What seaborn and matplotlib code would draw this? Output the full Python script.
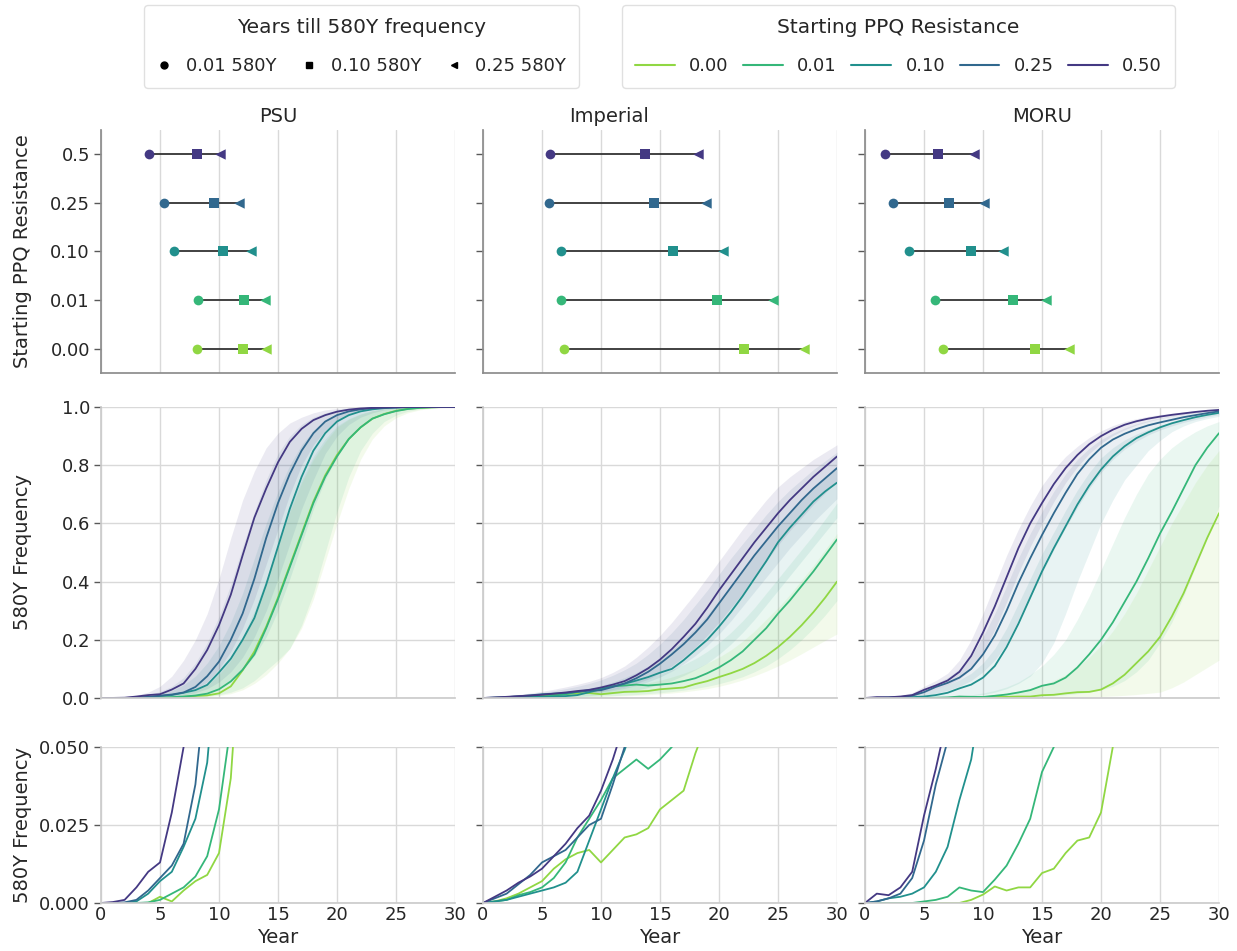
import numpy as np
import pandas as pd
import matplotlib
matplotlib.use("Agg")
import matplotlib.pyplot as plt
from matplotlib.lines import Line2D
import seaborn as sns

# ---- data -------------------------------------------------------------
years = list(range(0, 31))
models = ["PSU", "Imperial", "MORU"]
res_values = ["0.00", "0.01", "0.10", "0.25", "0.50"]
res_ticklabels = ["0.00", "0.01", "0.10", "0.25", "0.5"]
thr_labels = ["0.01 580Y", "0.10 580Y", "0.25 580Y"]

# years until 580Y reaches 0.01 / 0.10 / 0.25 (order: 0.00, 0.01, 0.10, 0.25, 0.50)
psu_t01 = [8.1, 8.2, 6.2, 5.3, 4.1]
psu_t10 = [12.0, 12.1, 10.3, 9.6, 8.1]
psu_t25 = [14.0, 13.9, 12.7, 11.7, 10.1]
imp_t01 = [6.9, 6.6, 6.6, 5.6, 5.7]
imp_t10 = [22.1, 19.8, 16.1, 14.5, 13.7]
imp_t25 = [27.2, 24.6, 20.3, 18.9, 18.2]
moru_t01 = [6.6, 5.9, 3.7, 2.35, 1.7]
moru_t10 = [14.4, 12.5, 9.0, 7.1, 6.2]
moru_t25 = [17.3, 15.3, 11.7, 10.1, 9.2]

# 580Y frequency by year (median) and band edges
psu_000 = [0, 0, 0, 0, 0, 0.002, 0.0005, 0.004, 0.007, 0.009, 0.016, 0.04, 0.095, 0.16, 0.245, 0.345,
           0.455, 0.565, 0.675, 0.765, 0.835, 0.89, 0.93, 0.96, 0.976, 0.987, 0.994, 0.997, 0.999, 1, 1]
psu_001 = [0, 0, 0, 0, 0.0002, 0.001, 0.003, 0.005, 0.0085, 0.015, 0.03, 0.057, 0.097, 0.15, 0.24, 0.34,
           0.45, 0.56, 0.67, 0.76, 0.83, 0.89, 0.93, 0.96, 0.975, 0.986, 0.993, 0.997, 0.999, 1, 1]
psu_010 = [0, 0, 0, 0.0005, 0.003, 0.007, 0.01, 0.018, 0.027, 0.045, 0.088, 0.135, 0.2, 0.275, 0.39, 0.52,
           0.65, 0.76, 0.85, 0.91, 0.95, 0.972, 0.985, 0.992, 0.996, 0.998, 0.999, 1, 1, 1, 1]
psu_025 = [0, 0, 0.0002, 0.001, 0.004, 0.008, 0.012, 0.019, 0.038, 0.075, 0.125, 0.2, 0.29, 0.41, 0.55, 0.67,
           0.77, 0.85, 0.91, 0.95, 0.972, 0.985, 0.992, 0.996, 0.998, 0.999, 1, 1, 1, 1, 1]
psu_050 = [0, 0.0003, 0.001, 0.005, 0.010, 0.013, 0.029, 0.05, 0.10, 0.165, 0.25, 0.355, 0.49, 0.62, 0.72, 0.81,
           0.88, 0.925, 0.955, 0.972, 0.984, 0.991, 0.995, 0.997, 0.998, 0.999, 1, 1, 1, 1, 1]
psu_000_lo = [0, 0, 0, 0, 0, 0, 0.0003, 0.001, 0.002, 0.004, 0.008, 0.015, 0.028, 0.05, 0.08, 0.12,
              0.17, 0.24, 0.34, 0.47, 0.6, 0.72, 0.82, 0.89, 0.935, 0.963, 0.98, 0.99, 0.995, 0.998, 1]
psu_000_hi = [0, 0, 0, 0, 0.001, 0.004, 0.008, 0.015, 0.026, 0.045, 0.08, 0.13, 0.2, 0.29, 0.4, 0.52,
              0.64, 0.74, 0.82, 0.88, 0.93, 0.958, 0.975, 0.987, 0.993, 0.997, 0.999, 1, 1, 1, 1]
psu_001_lo = [0, 0, 0, 0, 0, 0.0002, 0.0006, 0.0015, 0.003, 0.006, 0.011, 0.02, 0.035, 0.06, 0.095, 0.13,
              0.17, 0.25, 0.36, 0.5, 0.64, 0.76, 0.85, 0.91, 0.95, 0.972, 0.985, 0.993, 0.997, 0.999, 1]
psu_001_hi = [0, 0, 0, 0.0005, 0.002, 0.005, 0.01, 0.018, 0.03, 0.05, 0.085, 0.14, 0.21, 0.3, 0.41, 0.53,
              0.65, 0.75, 0.83, 0.89, 0.935, 0.96, 0.977, 0.988, 0.994, 0.997, 0.999, 1, 1, 1, 1]
psu_010_lo = [0, 0, 0, 0, 0.0005, 0.002, 0.004, 0.007, 0.012, 0.02, 0.035, 0.06, 0.095, 0.145, 0.21, 0.3,
              0.41, 0.53, 0.65, 0.75, 0.83, 0.89, 0.93, 0.96, 0.978, 0.988, 0.994, 0.997, 0.999, 1, 1]
psu_010_hi = [0, 0.0003, 0.001, 0.004, 0.008, 0.015, 0.025, 0.045, 0.075, 0.12, 0.18, 0.26, 0.36, 0.48, 0.6, 0.71,
              0.8, 0.87, 0.92, 0.955, 0.975, 0.987, 0.994, 0.997, 0.999, 1, 1, 1, 1, 1, 1]
psu_025_lo = [0, 0, 0, 0.0003, 0.001, 0.003, 0.006, 0.01, 0.018, 0.032, 0.055, 0.09, 0.14, 0.21, 0.3, 0.41,
              0.53, 0.65, 0.75, 0.84, 0.9, 0.94, 0.965, 0.98, 0.99, 0.995, 0.998, 0.999, 1, 1, 1]
psu_025_hi = [0, 0.0005, 0.002, 0.006, 0.012, 0.022, 0.04, 0.07, 0.12, 0.19, 0.28, 0.39, 0.52, 0.64, 0.75, 0.84,
              0.9, 0.94, 0.965, 0.98, 0.99, 0.995, 0.998, 0.999, 1, 1, 1, 1, 1, 1, 1]
psu_050_lo = [0, 0, 0, 0.001, 0.003, 0.006, 0.01, 0.018, 0.03, 0.055, 0.1, 0.16, 0.24, 0.34, 0.46, 0.58,
              0.7, 0.8, 0.87, 0.92, 0.955, 0.975, 0.987, 0.993, 0.997, 0.999, 1, 1, 1, 1, 1]
psu_050_hi = [0, 0.001, 0.004, 0.01, 0.02, 0.04, 0.075, 0.13, 0.2, 0.29, 0.41, 0.55, 0.68, 0.78, 0.86, 0.91,
              0.945, 0.965, 0.98, 0.99, 0.995, 0.997, 0.998, 0.999, 1, 1, 1, 1, 1, 1, 1]

imp_000 = [0, 0.0005, 0.0015, 0.003, 0.005, 0.007, 0.011, 0.014, 0.016, 0.017, 0.013, 0.017, 0.021, 0.022, 0.024, 0.03,
           0.033, 0.036, 0.048, 0.058, 0.072, 0.085, 0.1, 0.12, 0.145, 0.175, 0.21, 0.25, 0.295, 0.345, 0.40]
imp_001 = [0, 0.0005, 0.001, 0.0025, 0.0035, 0.005, 0.008, 0.013, 0.021, 0.027, 0.033, 0.04, 0.043, 0.046, 0.043, 0.046,
           0.05, 0.058, 0.068, 0.085, 0.105, 0.13, 0.16, 0.2, 0.24, 0.29, 0.335, 0.385, 0.435, 0.49, 0.545]
imp_010 = [0, 0.0005, 0.001, 0.002, 0.003, 0.004, 0.005, 0.0065, 0.01, 0.02, 0.03, 0.04, 0.049, 0.06, 0.072, 0.087,
           0.1, 0.13, 0.165, 0.2, 0.245, 0.295, 0.35, 0.41, 0.47, 0.535, 0.585, 0.63, 0.675, 0.71, 0.74]
imp_025 = [0, 0.0015, 0.003, 0.006, 0.009, 0.013, 0.015, 0.017, 0.021, 0.025, 0.027, 0.038, 0.05, 0.068, 0.09, 0.118,
           0.15, 0.185, 0.225, 0.27, 0.325, 0.38, 0.435, 0.49, 0.54, 0.59, 0.635, 0.68, 0.72, 0.755, 0.79]
imp_050 = [0, 0.002, 0.004, 0.0065, 0.0085, 0.011, 0.015, 0.019, 0.024, 0.028, 0.036, 0.046, 0.058, 0.078, 0.102, 0.132,
           0.168, 0.21, 0.255, 0.31, 0.37, 0.425, 0.48, 0.535, 0.585, 0.635, 0.68, 0.72, 0.76, 0.795, 0.83]
imp_000_lo = [0, 0, 0, 0, 0.0005, 0.001, 0.0015, 0.002, 0.003, 0.004, 0.005, 0.006, 0.0075, 0.009, 0.011, 0.014,
              0.017, 0.021, 0.026, 0.032, 0.04, 0.05, 0.062, 0.076, 0.092, 0.11, 0.13, 0.152, 0.175, 0.198, 0.22]
imp_000_hi = [0, 0.001, 0.002, 0.0035, 0.005, 0.007, 0.01, 0.013, 0.017, 0.021, 0.026, 0.031, 0.037, 0.044, 0.052, 0.061,
              0.072, 0.085, 0.1, 0.12, 0.14, 0.165, 0.195, 0.23, 0.27, 0.31, 0.355, 0.405, 0.455, 0.51, 0.565]
imp_001_lo = [0, 0, 0, 0.0005, 0.001, 0.0015, 0.002, 0.003, 0.004, 0.005, 0.0065, 0.008, 0.01, 0.012, 0.015, 0.018,
              0.022, 0.027, 0.033, 0.04, 0.049, 0.06, 0.073, 0.09, 0.11, 0.135, 0.165, 0.2, 0.24, 0.285, 0.335]
imp_001_hi = [0, 0.001, 0.002, 0.004, 0.006, 0.009, 0.012, 0.016, 0.021, 0.027, 0.034, 0.042, 0.05, 0.06, 0.07, 0.082,
              0.097, 0.115, 0.135, 0.16, 0.19, 0.225, 0.265, 0.31, 0.36, 0.41, 0.46, 0.51, 0.56, 0.615, 0.67]
imp_010_lo = [0, 0, 0.0005, 0.001, 0.0015, 0.002, 0.003, 0.004, 0.006, 0.008, 0.011, 0.015, 0.02, 0.027, 0.036, 0.047,
              0.06, 0.077, 0.097, 0.12, 0.15, 0.185, 0.225, 0.27, 0.32, 0.37, 0.42, 0.47, 0.52, 0.57, 0.62]
imp_010_hi = [0, 0.0015, 0.003, 0.005, 0.008, 0.011, 0.015, 0.02, 0.026, 0.034, 0.043, 0.055, 0.07, 0.088, 0.11, 0.135,
              0.165, 0.2, 0.24, 0.285, 0.335, 0.385, 0.435, 0.49, 0.54, 0.59, 0.635, 0.68, 0.72, 0.755, 0.79]
imp_025_lo = [0, 0.0008, 0.0015, 0.0025, 0.004, 0.006, 0.008, 0.01, 0.013, 0.016, 0.02, 0.026, 0.033, 0.043, 0.056, 0.072,
              0.092, 0.117, 0.146, 0.18, 0.22, 0.265, 0.315, 0.365, 0.415, 0.465, 0.515, 0.56, 0.605, 0.645, 0.685]
imp_025_hi = [0, 0.0025, 0.005, 0.009, 0.014, 0.019, 0.025, 0.032, 0.04, 0.05, 0.062, 0.078, 0.097, 0.12, 0.15, 0.185,
              0.225, 0.27, 0.32, 0.37, 0.425, 0.48, 0.53, 0.58, 0.63, 0.675, 0.715, 0.75, 0.785, 0.815, 0.845]
imp_050_lo = [0, 0.001, 0.002, 0.003, 0.005, 0.007, 0.009, 0.011, 0.014, 0.018, 0.023, 0.03, 0.038, 0.05, 0.065, 0.085,
              0.11, 0.14, 0.175, 0.215, 0.26, 0.31, 0.36, 0.415, 0.47, 0.525, 0.575, 0.62, 0.665, 0.705, 0.745]
imp_050_hi = [0, 0.003, 0.007, 0.012, 0.017, 0.023, 0.03, 0.038, 0.047, 0.057, 0.07, 0.088, 0.11, 0.14, 0.175, 0.215,
              0.26, 0.31, 0.36, 0.415, 0.47, 0.525, 0.58, 0.63, 0.68, 0.725, 0.76, 0.79, 0.82, 0.845, 0.87]

moru_000 = [0, 0, 0, 0, 0, 0, 0, 0, 0, 0.001, 0.0027, 0.0053, 0.004, 0.005, 0.005, 0.0096,
            0.011, 0.016, 0.02, 0.021, 0.029, 0.05, 0.08, 0.12, 0.16, 0.21, 0.28, 0.36, 0.455, 0.55, 0.635]
moru_001 = [0, 0, 0, 0, 0, 0.0005, 0.001, 0.002, 0.005, 0.004, 0.0035, 0.0075, 0.012, 0.019, 0.027, 0.042,
            0.05, 0.07, 0.105, 0.15, 0.2, 0.26, 0.33, 0.4, 0.48, 0.565, 0.64, 0.72, 0.8, 0.86, 0.91]
moru_010 = [0, 0.0005, 0.0015, 0.002, 0.003, 0.005, 0.01, 0.018, 0.033, 0.046, 0.07, 0.11, 0.175, 0.255, 0.345, 0.435,
            0.515, 0.59, 0.665, 0.73, 0.785, 0.83, 0.865, 0.893, 0.913, 0.93, 0.944, 0.955, 0.965, 0.973, 0.98]
moru_025 = [0, 0.0005, 0.0015, 0.003, 0.008, 0.02, 0.038, 0.052, 0.07, 0.1, 0.15, 0.215, 0.3, 0.395, 0.48, 0.56,
            0.635, 0.705, 0.77, 0.82, 0.86, 0.888, 0.908, 0.924, 0.937, 0.947, 0.956, 0.965, 0.972, 0.979, 0.985]
moru_050 = [0, 0.003, 0.0025, 0.005, 0.01, 0.028, 0.043, 0.06, 0.09, 0.145, 0.225, 0.315, 0.415, 0.515, 0.6, 0.67,
            0.735, 0.79, 0.835, 0.872, 0.9, 0.922, 0.939, 0.951, 0.96, 0.967, 0.973, 0.978, 0.983, 0.987, 0.99]
moru_000_lo = [0, 0, 0, 0, 0, 0, 0, 0, 0, 0, 0, 0, 0, 0.0003, 0.0005, 0.001,
               0.0015, 0.002, 0.003, 0.004, 0.005, 0.007, 0.009, 0.012, 0.016, 0.02, 0.035, 0.055, 0.08, 0.105, 0.13]
moru_000_hi = [0, 0, 0, 0, 0, 0.0005, 0.001, 0.002, 0.003, 0.005, 0.008, 0.012, 0.017, 0.024, 0.033, 0.045,
               0.06, 0.08, 0.105, 0.14, 0.18, 0.23, 0.29, 0.36, 0.44, 0.52, 0.6, 0.67, 0.74, 0.8, 0.85]
moru_001_lo = [0, 0, 0, 0, 0, 0, 0, 0, 0, 0.0005, 0.001, 0.0015, 0.002, 0.003, 0.004, 0.006,
               0.008, 0.011, 0.015, 0.02, 0.028, 0.04, 0.06, 0.09, 0.13, 0.19, 0.26, 0.35, 0.45, 0.55, 0.66]
moru_001_hi = [0, 0, 0, 0, 0.0005, 0.001, 0.002, 0.004, 0.007, 0.011, 0.017, 0.026, 0.038, 0.055, 0.08, 0.11,
               0.15, 0.2, 0.27, 0.35, 0.44, 0.53, 0.62, 0.7, 0.77, 0.82, 0.86, 0.89, 0.915, 0.935, 0.95]
moru_010_lo = [0, 0, 0, 0, 0, 0.0005, 0.001, 0.002, 0.004, 0.007, 0.012, 0.02, 0.032, 0.05, 0.075, 0.12,
               0.19, 0.29, 0.4, 0.5, 0.6, 0.68, 0.75, 0.8, 0.85, 0.885, 0.915, 0.935, 0.95, 0.96, 0.968]
moru_010_hi = [0, 0.001, 0.002, 0.004, 0.008, 0.016, 0.03, 0.045, 0.062, 0.085, 0.12, 0.17, 0.24, 0.325, 0.41, 0.495,
               0.57, 0.645, 0.715, 0.775, 0.825, 0.86, 0.887, 0.907, 0.923, 0.937, 0.948, 0.958, 0.967, 0.975, 0.982]
moru_025_lo = [0, 0, 0.0005, 0.001, 0.003, 0.008, 0.016, 0.026, 0.04, 0.06, 0.09, 0.13, 0.185, 0.26, 0.345, 0.43,
               0.51, 0.585, 0.655, 0.72, 0.775, 0.82, 0.855, 0.882, 0.904, 0.921, 0.935, 0.947, 0.957, 0.966, 0.974]
moru_025_hi = [0, 0.002, 0.004, 0.007, 0.014, 0.03, 0.05, 0.07, 0.1, 0.145, 0.21, 0.29, 0.385, 0.48, 0.565, 0.64,
               0.71, 0.77, 0.82, 0.858, 0.888, 0.91, 0.928, 0.942, 0.953, 0.962, 0.97, 0.976, 0.982, 0.986, 0.99]
moru_050_lo = [0, 0.001, 0.0015, 0.003, 0.006, 0.017, 0.03, 0.045, 0.065, 0.1, 0.16, 0.235, 0.33, 0.43, 0.52, 0.6,
               0.675, 0.74, 0.795, 0.84, 0.875, 0.902, 0.922, 0.938, 0.95, 0.96, 0.968, 0.975, 0.98, 0.985, 0.988]
moru_050_hi = [0, 0.005, 0.006, 0.01, 0.018, 0.04, 0.06, 0.085, 0.13, 0.2, 0.29, 0.39, 0.49, 0.58, 0.66, 0.73,
               0.785, 0.83, 0.865, 0.895, 0.918, 0.936, 0.95, 0.96, 0.968, 0.974, 0.979, 0.983, 0.987, 0.99, 0.993]

# ---- assemble ---------------------------------------------------------
times = {
    "PSU": [psu_t01, psu_t10, psu_t25],
    "Imperial": [imp_t01, imp_t10, imp_t25],
    "MORU": [moru_t01, moru_t10, moru_t25],
}
medians = {
    "PSU": [psu_000, psu_001, psu_010, psu_025, psu_050],
    "Imperial": [imp_000, imp_001, imp_010, imp_025, imp_050],
    "MORU": [moru_000, moru_001, moru_010, moru_025, moru_050],
}
bands = {
    "PSU": [(psu_000_lo, psu_000_hi), (psu_001_lo, psu_001_hi), (psu_010_lo, psu_010_hi),
            (psu_025_lo, psu_025_hi), (psu_050_lo, psu_050_hi)],
    "Imperial": [(imp_000_lo, imp_000_hi), (imp_001_lo, imp_001_hi), (imp_010_lo, imp_010_hi),
                 (imp_025_lo, imp_025_hi), (imp_050_lo, imp_050_hi)],
    "MORU": [(moru_000_lo, moru_000_hi), (moru_001_lo, moru_001_hi), (moru_010_lo, moru_010_hi),
             (moru_025_lo, moru_025_hi), (moru_050_lo, moru_050_hi)],
}

sns.set_theme(style="whitegrid")
plt.rcParams["font.family"] = ["DejaVu Sans"]
plt.rcParams["axes.edgecolor"] = "0.8"

colors = sns.color_palette("viridis_r", len(res_values))
pal = dict(zip(res_values, colors))
top_pal = dict(zip(res_ticklabels, colors))
top_labels = list(reversed(res_ticklabels))     # 0.5 at the top

W, H = 1237, 951
fig = plt.figure(figsize=(W / 100, H / 100), dpi=100)


def rect(x0, y0, x1, y1):
    return [x0 / W, 1 - y1 / H, (x1 - x0) / W, (y1 - y0) / H]


col_x = [(101, 455), (483, 837), (865, 1219)]
row_y = [(130, 373), (407, 698), (747, 903)]
title_x = [0.5, 0.356, 0.5]
tick_kw = dict(axis="y", left=True, length=5, width=1, color="0.35", labelsize=13, pad=3)

for j, model in enumerate(models):
    # --- top row: years until threshold
    ax = fig.add_axes(rect(col_x[j][0], row_y[0][0], col_x[j][1], row_y[0][1]))
    t01, t10, t25 = times[model]
    top_df = pd.DataFrame({
        "res": res_ticklabels * 3,
        "year": t01 + t10 + t25,
        "thr": sum([[lab] * len(res_values) for lab in thr_labels], []),
    })
    pos = np.arange(len(top_labels))
    lo = [t01[res_ticklabels.index(r)] for r in top_labels]
    hi = [t25[res_ticklabels.index(r)] for r in top_labels]
    ax.hlines(pos, lo, hi, color="0.2", lw=1.3, zorder=1)
    for lab, mk in zip(thr_labels, ["o", "s", "<"]):
        sns.stripplot(data=top_df[top_df["thr"] == lab], x="year", y="res", hue="res",
                      order=top_labels, hue_order=top_labels, palette=top_pal,
                      jitter=False, marker=mk, size=7 if mk != "<" else 7.5,
                      linewidth=0, legend=False, ax=ax, zorder=3)
    ax.set_xlim(0, 30)
    ax.set_xticks(range(0, 31, 5))
    ax.tick_params(axis="x", labelbottom=False, length=0)
    ax.tick_params(**tick_kw)
    ax.grid(axis="x", color="0.85")
    ax.grid(axis="y", visible=False)
    ax.set_xlabel("")
    for s in ["left", "bottom"]:
        ax.spines[s].set_color("0.55")
    sns.despine(ax=ax)
    ax.set_title(model, fontsize=14, x=title_x[j], pad=6)
    if j == 0:
        ax.set_ylabel("Starting PPQ Resistance", fontsize=14)
        ax.yaxis.set_label_coords(-0.195, 0.5)
    else:
        ax.set_ylabel("")
        ax.tick_params(axis="y", labelleft=False)

    # --- curves, full range and zoomed
    long_df = pd.DataFrame({
        "year": years * len(res_values),
        "freq": sum(medians[model], []),
        "res": sum([[r] * len(years) for r in res_values], []),
    })
    for i, (y0, y1) in enumerate(row_y[1:]):
        ax = fig.add_axes(rect(col_x[j][0], y0, col_x[j][1], y1))
        if i == 0:
            for r, (blo, bhi) in zip(res_values, bands[model]):
                ax.fill_between(years, blo, bhi, color=pal[r], alpha=0.1, lw=0)
        sns.lineplot(data=long_df, x="year", y="freq", hue="res", hue_order=res_values,
                     palette=pal, linewidth=1.3, legend=False, ax=ax)
        ax.set_xlim(0, 30)
        ax.set_xticks(range(0, 31, 5))
        ax.grid(color="0.85")
        ax.tick_params(**tick_kw)
        ax.tick_params(axis="x", length=0, labelsize=13, pad=2)
        sns.despine(ax=ax)
        if i == 0:
            ax.set_ylim(0, 1)
            ax.set_yticks(np.arange(0, 1.01, 0.2))
            ax.tick_params(axis="x", labelbottom=False)
            ax.set_xlabel("")
        else:
            ax.set_ylim(0, 0.05)
            ax.set_yticks([0, 0.025, 0.05])
            ax.set_yticklabels(["0.000", "0.025", "0.050"])
            ax.set_xlabel("Year", fontsize=14, labelpad=3)
        if j == 0:
            ax.set_ylabel("580Y Frequency", fontsize=14)
            ax.yaxis.set_label_coords(-0.195, 0.5)
        else:
            ax.set_ylabel("")
            ax.tick_params(axis="y", labelleft=False)

# ---- legends ----------------------------------------------------------
leg_kw = dict(loc="center", fontsize=13, title_fontsize=14.5, borderpad=0.7,
              labelspacing=1.15, handletextpad=0.8, frameon=True, edgecolor="0.85")
mk_handles = [Line2D([], [], marker=m, color="black", linestyle="none", markersize=5)
              for m in ["o", "s", "<"]]
fig.legend(mk_handles, thr_labels, title="Years till 580Y frequency", ncol=3,
           bbox_to_anchor=(361.5 / W, 1 - 46.5 / H), handlelength=0.8,
           columnspacing=1.4, **leg_kw)
ln_handles = [Line2D([], [], color=pal[r], lw=1.5) for r in res_values]
fig.legend(ln_handles, res_values, title="Starting PPQ Resistance", ncol=5,
           bbox_to_anchor=(898.5 / W, 1 - 46.5 / H), handlelength=2.2,
           columnspacing=0.8, **leg_kw)

fig.savefig("out.png", dpi=100)
